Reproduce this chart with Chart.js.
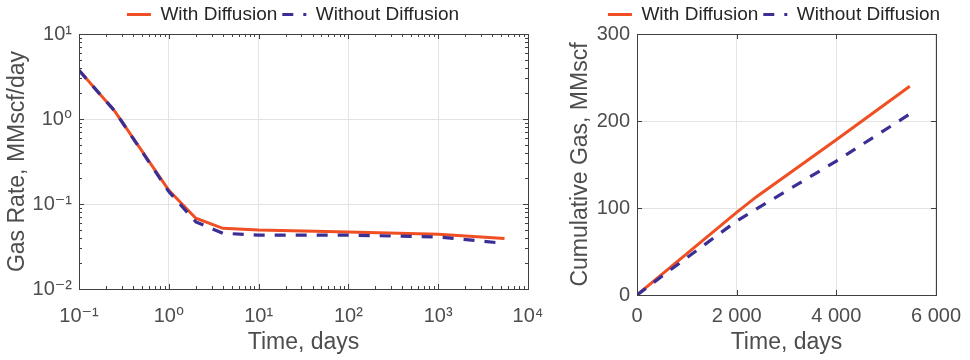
<!DOCTYPE html>
<html><head><meta charset="utf-8">
<script src="https://cdn.jsdelivr.net/npm/chart.js@4.4.1/dist/chart.umd.min.js"></script>
<style>
html,body{margin:0;padding:0;background:#fff;}
#wrap{position:relative;width:970px;height:360px;overflow:hidden;background:#fff;}
#c1{position:absolute;left:0;top:0;}
#c2{position:absolute;left:560px;top:0;}
</style></head><body>
<div id="wrap"><canvas id="c1" width="560" height="360"></canvas><canvas id="c2" width="410" height="360"></canvas></div>
<script>
// ---- data ----
const seriesNames = ['With Diffusion', 'Without Diffusion'];
const rateTime = [0.1, 0.25, 1, 2, 4, 10, 100, 1000, 5475];
const rateWith = [3.74, 1.24, 0.145, 0.068, 0.0517, 0.0494, 0.0469, 0.0442, 0.0393];
const rateWithout = [3.74, 1.24, 0.14, 0.0616, 0.0453, 0.043, 0.043, 0.041, 0.0344];
const cumTime = [0, 650, 2000, 2400, 4000, 5475];
const cumWith = [0, 31, 95, 113, 178.5, 240];
const cumWithout = [0, 28, 85, 99, 154, 208];
const rateXTicks = [0.1, 1, 10, 100, 1000, 10000];
const rateXLabels = ['10⁻¹', '10⁰', '10¹', '10²', '10³', '10⁴'];
const rateYTicks = [0.01, 0.1, 1, 10];
const rateYLabels = ['10⁻²', '10⁻¹', '10⁰', '10¹'];
const cumXTicks = [0, 2000, 4000, 6000];
const cumXLabels = ['0', '2 000', '4 000', '6 000'];
const cumYTicks = [0, 100, 200, 300];
const cumYLabels = ['0', '100', '200', '300'];

// ---- styles ----
const RED = '#f04e23', BLUE = '#3a2f94';
const TXT = '#4d4d4d', AXIS = '#404040', GRID = '#e3e3e3';
Chart.defaults.font.family = '"Liberation Sans", "DejaVu Sans", Arial, sans-serif';
Chart.defaults.color = TXT;

function pts(xs, ys) { return xs.map((x, i) => ({x: x, y: ys[i]})); }
function minorLog(min, max) {
  const out = [];
  for (let e = Math.floor(Math.log10(min)); e < Math.ceil(Math.log10(max)); e++) {
    for (let m = 2; m <= 9; m++) { const v = m * Math.pow(10, e); if (v > min && v < max) out.push(v); }
  }
  return out;
}

const framePlugin = {
  id: 'frame',
  afterLayout(chart, args, opts) {
    if (opts.legendDx && chart.legend) {
      chart.legend.left += opts.legendDx;
      chart.legend.right += opts.legendDx;
    }
  },
  afterDraw(chart, args, opts) {
    const {ctx, chartArea: a, scales} = chart;
    ctx.save();
    ctx.strokeStyle = AXIS;
    ctx.lineWidth = 1;
    ctx.setLineDash([]);
    ctx.beginPath();
    const tickX = (vals, len) => vals.forEach(v => {
      const p = Math.round(scales.x.getPixelForValue(v)) + 0.5;
      ctx.moveTo(p, a.bottom); ctx.lineTo(p, a.bottom - len);
      ctx.moveTo(p, a.top); ctx.lineTo(p, a.top + len);
    });
    const tickY = (vals, len) => vals.forEach(v => {
      const p = Math.round(scales.y.getPixelForValue(v)) + 0.5;
      ctx.moveTo(a.left, p); ctx.lineTo(a.left + len, p);
      ctx.moveTo(a.right, p); ctx.lineTo(a.right - len, p);
    });
    tickX(opts.xMajor, 5); tickY(opts.yMajor, 5);
    if (opts.xMinor) tickX(opts.xMinor, 3);
    if (opts.yMinor) tickY(opts.yMinor, 3);
    ctx.stroke();
    ctx.strokeRect(Math.round(a.left) + 0.5, Math.round(a.top) + 0.5, Math.round(a.right - a.left), Math.round(a.bottom - a.top));
    ctx.restore();
  }
};

function datasets(xs, yWith, yWithout) {
  return [
    {label: seriesNames[0], data: pts(xs, yWith), borderColor: RED, backgroundColor: RED,
     borderWidth: 3, pointRadius: 0, tension: 0, order: 1},
    {label: seriesNames[1], data: pts(xs, yWithout), borderColor: BLUE, backgroundColor: BLUE,
     borderWidth: 3.2, borderDash: [11, 10], pointRadius: 0, tension: 0, order: 0}
  ];
}

function legendOpts() {
  return {
    display: true, position: 'top',
    labels: {
      usePointStyle: true, pointStyle: 'line', pointStyleWidth: 24, padding: 5,
      color: '#262626', font: {size: 19},
      sort: (a, b) => a.datasetIndex - b.datasetIndex,
      generateLabels: chart => Chart.defaults.plugins.legend.labels.generateLabels(chart).map(it => {
        const ds = chart.data.datasets[it.datasetIndex];
        return Object.assign({}, it, {
          lineDash: ds.borderDash || [], lineDashOffset: 0,
          lineWidth: ds.borderWidth, strokeStyle: ds.borderColor, lineCap: 'butt'
        });
      })
    }
  };
}

function fixedTicks(values) {
  return s => { s.ticks = values.map(v => ({value: v})); };
}

new Chart(document.getElementById('c1'), {
  type: 'line',
  data: {datasets: datasets(rateTime, rateWith, rateWithout)},
  plugins: [framePlugin],
  options: {
    responsive: false, animation: false, events: [],
    layout: {padding: {left: 0, right: 32, top: 0, bottom: 0}},
    plugins: {
      legend: legendOpts(),
      tooltip: {enabled: false},
      frame: {legendDx: 29, xMajor: rateXTicks, yMajor: rateYTicks,
              xMinor: minorLog(0.1, 10000), yMinor: minorLog(0.01, 10)}
    },
    scales: {
      x: {
        type: 'logarithmic', min: 0.1, max: 10000,
        afterBuildTicks: fixedTicks(rateXTicks),
        afterFit: s => { s.height = 71; },
        grid: {color: GRID, drawTicks: false},
        border: {display: false},
        ticks: {font: {size: 20}, color: TXT, padding: 15, maxRotation: 0,
                callback: (v, i) => rateXLabels[i]},
        title: {display: true, text: 'Time, days', font: {size: 23}, color: TXT, padding: {top: 0, bottom: 4}}
      },
      y: {
        type: 'logarithmic', min: 0.01, max: 10,
        afterBuildTicks: fixedTicks(rateYTicks),
        afterFit: s => { s.width = 79; },
        grid: {color: GRID, drawTicks: false},
        border: {display: false},
        ticks: {font: {size: 20}, color: TXT, padding: 7,
                callback: (v, i) => rateYLabels[i]},
        title: {display: true, text: 'Gas Rate, MMscf/day', font: {size: 23}, color: TXT, padding: {top: 4, bottom: 0}}
      }
    }
  }
});

new Chart(document.getElementById('c2'), {
  type: 'line',
  data: {datasets: datasets(cumTime, cumWith, cumWithout)},
  plugins: [framePlugin],
  options: {
    responsive: false, animation: false, events: [],
    layout: {padding: {left: 0, right: 27, top: 0, bottom: 0}},
    plugins: {
      legend: legendOpts(),
      tooltip: {enabled: false},
      frame: {legendDx: 22.5, xMajor: cumXTicks, yMajor: cumYTicks}
    },
    scales: {
      x: {
        type: 'linear', min: 0, max: 6000,
        afterBuildTicks: fixedTicks(cumXTicks),
        afterFit: s => { s.height = 65; },
        grid: {color: GRID, drawTicks: false},
        border: {display: false},
        ticks: {font: {size: 20}, color: TXT, padding: 9, maxRotation: 0,
                callback: (v, i) => cumXLabels[i]},
        title: {display: true, text: 'Time, days', font: {size: 23}, color: TXT, padding: {top: 0, bottom: 4}}
      },
      y: {
        type: 'linear', min: 0, max: 300,
        afterBuildTicks: fixedTicks(cumYTicks),
        afterFit: s => { s.width = 77; },
        grid: {color: GRID, drawTicks: false},
        border: {display: false},
        ticks: {font: {size: 20}, color: TXT, padding: 7,
                callback: (v, i) => cumYLabels[i]},
        title: {display: true, text: 'Cumulative Gas, MMscf', font: {size: 23}, color: TXT, padding: {top: 7, bottom: 0}}
      }
    }
  }
});
</script>
</body></html>
